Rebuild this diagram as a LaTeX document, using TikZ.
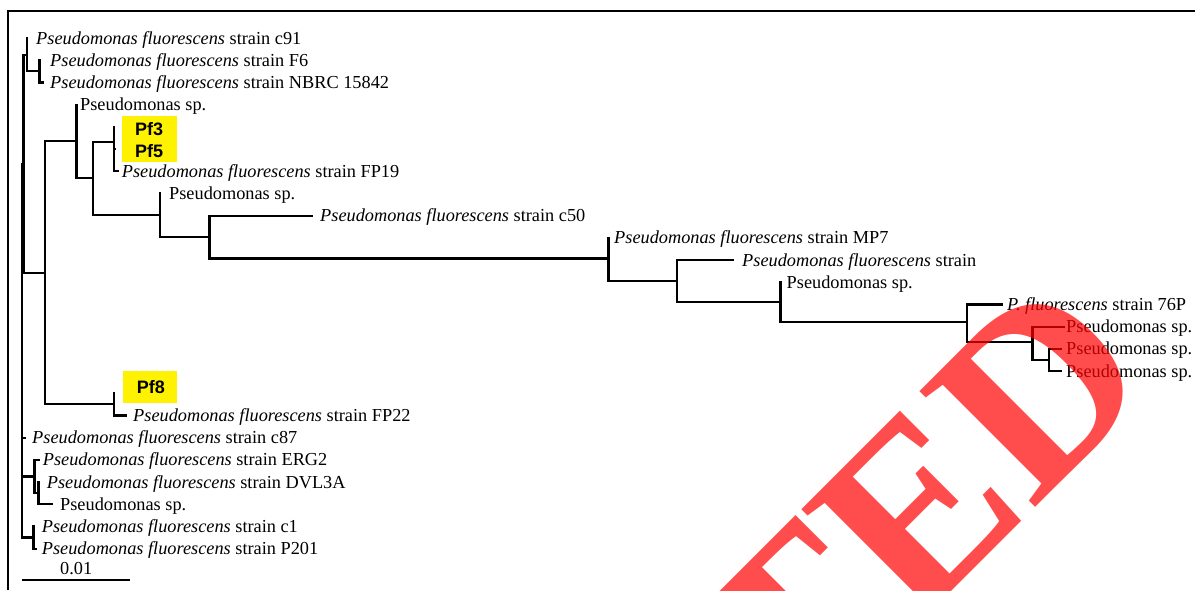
\documentclass[tikz,border=0pt]{standalone}
\usepackage{fontspec}
\setmainfont{Liberation Serif}
\newfontfamily\pfsans{Liberation Sans}
\begin{document}
\begin{tikzpicture}[x=1pt,y=-1pt,
  br/.style={line width=2.2pt,line cap=rect,line join=miter},
  lab/.style={anchor=base west,inner sep=0pt,font=\fontsize{18.3}{20}\selectfont},
  pf/.style={anchor=base west,inner sep=0pt,font=\pfsans\bfseries\fontsize{18}{19}\selectfont},
  hl/.style={fill=yellow,draw=none}]
\useasboundingbox (0,0) rectangle (1195,590);
\fill[white] (0,0) rectangle (1195,590);
% frame
\coordinate (fa) at (8,590);
\coordinate (fb) at (8,11);
\coordinate (fc) at (1195,11);
\draw[line width=2.6pt] (fa) -- (fb) -- (fc);
% highlight boxes
\fill[hl] (122,116) rectangle (177,162);
\fill[hl] (123,371) rectangle (177,403);
% internal nodes
\coordinate (root) at (22,350);
\coordinate (R1) at (23.5,163.7);
\coordinate (A) at (27,54.65);
\coordinate (AF) at (39.5,71.3);
\coordinate (B) at (45,272.8);
\coordinate (G) at (76.5,141.3);
\coordinate (F) at (93,178.3);
\coordinate (E) at (114,141.7);
\coordinate (H) at (160,215.2);
\coordinate (I) at (209.5,237);
\coordinate (J) at (608.5,258.5);
\coordinate (K) at (677,281);
\coordinate (L) at (780.5,302);
\coordinate (M) at (967,322);
\coordinate (N) at (1032.5,342);
\coordinate (O) at (1049,359.9);
\coordinate (P8) at (114,404.3);
\coordinate (C) at (34.5,476.45);
\coordinate (DE) at (38.5,493.1);
\coordinate (CP) at (33.5,537.5);
% tips
\coordinate (t1) at (27,38);
\coordinate (t2) at (39.5,60.2);
\coordinate (t3) at (42.5,82.4);
\coordinate (t4) at (76.5,104.6);
\coordinate (t5) at (114,126.8);
\coordinate (t6) at (115,149);
\coordinate (t7) at (118,171.2);
\coordinate (t8) at (160,193.4);
\coordinate (t9) at (312,215.6);
\coordinate (t10) at (608.5,237.8);
\coordinate (t11) at (733,260);
\coordinate (t12) at (780.5,282.2);
\coordinate (t13) at (1002,304.4);
\coordinate (t14) at (1064,326.6);
\coordinate (t15) at (1061,348.8);
\coordinate (t16) at (1061,371);
\coordinate (t17) at (114,393.2);
\coordinate (t18) at (126,415.4);
\coordinate (t19) at (24.5,437.6);
\coordinate (t20) at (39,459.8);
\coordinate (t21) at (38.5,482);
\coordinate (t22) at (52,504.2);
\coordinate (t23) at (33.5,526.4);
\coordinate (t24) at (36,548.6);
% branches
\draw[br] (root) |- (R1);
\draw[br] (root) |- (t19);
\draw[br] (root) |- (C);
\draw[br] (root) |- (CP);
\draw[br] (R1) |- (A);
\draw[br] (R1) |- (B);
\draw[br] (A) |- (t1);
\draw[br] (A) |- (AF);
\draw[br] (AF) |- (t2);
\draw[br] (AF) |- (t3);
\draw[br] (B) |- (G);
\draw[br] (B) |- (P8);
\draw[br] (G) |- (t4);
\draw[br] (G) |- (F);
\draw[br] (F) |- (E);
\draw[br] (F) |- (H);
\draw[br] (E) |- (t5);
\draw[br] (E) |- (t6);
\draw[br] (E) |- (t7);
\draw[br] (H) |- (t8);
\draw[br] (H) |- (I);
\draw[br] (I) |- (t9);
\draw[br] (I) |- (J);
\draw[br] (J) |- (t10);
\draw[br] (J) |- (K);
\draw[br] (K) |- (t11);
\draw[br] (K) |- (L);
\draw[br] (L) |- (t12);
\draw[br] (L) |- (M);
\draw[br] (M) |- (t13);
\draw[br] (M) |- (N);
\draw[br] (N) |- (t14);
\draw[br] (N) |- (O);
\draw[br] (O) |- (t15);
\draw[br] (O) |- (t16);
\draw[br] (P8) |- (t17);
\draw[br] (P8) |- (t18);
\draw[br] (C) |- (t20);
\draw[br] (C) |- (DE);
\draw[br] (DE) |- (t21);
\draw[br] (DE) |- (t22);
\draw[br] (CP) |- (t23);
\draw[br] (CP) |- (t24);
% labels
\node[lab] (l1) at (36,44) {\textit{Pseudomonas fluorescens} strain c91};
\node[lab] (l2) at (50,66.2) {\textit{Pseudomonas fluorescens} strain F6};
\node[lab] (l3) at (50,88.4) {\textit{Pseudomonas fluorescens} strain NBRC 15842};
\node[lab] (l4) at (80,110.6) {Pseudomonas sp.};
\node[pf] (l5) at (135,135.7) {Pf3};
\node[pf] (l6) at (135,157) {Pf5};
\node[lab] (l7) at (121.7,177.2) {\textit{Pseudomonas fluorescens} strain FP19};
\node[lab] (l8) at (169,199.4) {Pseudomonas sp.};
\node[lab] (l9) at (320,221.6) {\textit{Pseudomonas fluorescens} strain c50};
\node[lab] (l10) at (614,243.8) {\textit{Pseudomonas fluorescens} strain MP7};
\node[lab] (l11) at (742,266) {\textit{Pseudomonas fluorescens} strain};
\node[lab] (l12) at (786.5,288.2) {Pseudomonas sp.};
\node[lab] (l13) at (1007,310.4) {\textit{P. fluorescens} strain 76P};
\node[lab] (l14) at (1066,332.6) {Pseudomonas sp.};
\node[lab] (l15) at (1066,354.8) {Pseudomonas sp.};
\node[lab] (l16) at (1066,377) {Pseudomonas sp.};
\node[pf] (l17) at (136.7,393.3) {Pf8};
\node[lab] (l18) at (133,421.4) {\textit{Pseudomonas fluorescens} strain FP22};
\node[lab] (l19) at (32,443.6) {\textit{Pseudomonas fluorescens} strain c87};
\node[lab] (l20) at (42.7,465.8) {\textit{Pseudomonas fluorescens} strain ERG2};
\node[lab] (l21) at (46.7,488) {\textit{Pseudomonas fluorescens} strain DVL3A};
\node[lab] (l22) at (60,510.2) {Pseudomonas sp.};
\node[lab] (l23) at (41.7,532.4) {\textit{Pseudomonas fluorescens} strain c1};
\node[lab] (l24) at (41.7,554.6) {\textit{Pseudomonas fluorescens} strain P201};
% scale bar
\coordinate (sa) at (22,580);
\coordinate (sb) at (130,580);
\draw[line width=2.2pt] (sa) -- (sb);
\node[lab] (sl) at (60,574) {0.01};
% watermark
\node[rotate=45,anchor=base east,inner sep=0pt,text=red,opacity=0.7,
  font=\bfseries\fontsize{250}{250}\selectfont] (wm) at (1160,383) {RETRACTED};
\end{tikzpicture}
\end{document}
